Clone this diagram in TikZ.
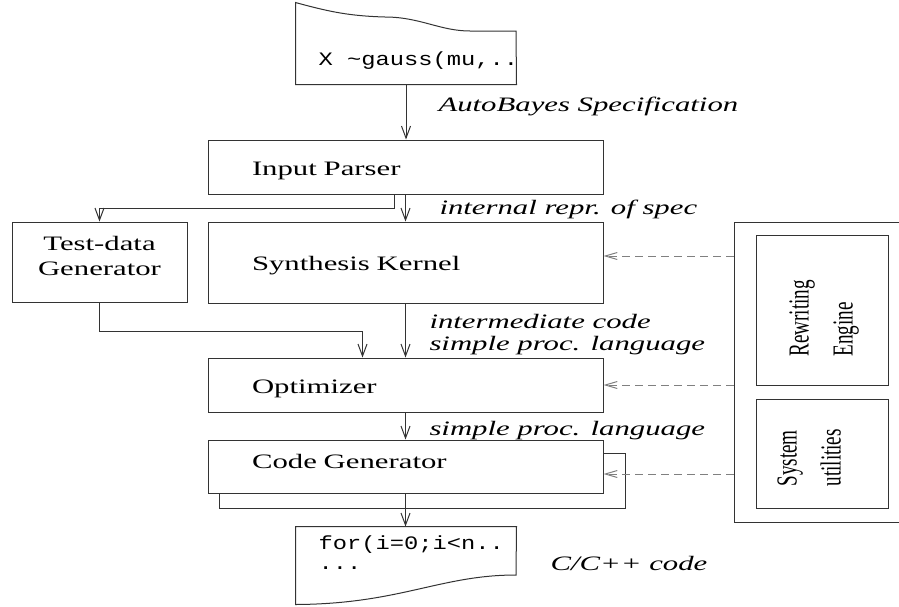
\documentclass[tikz,border=0pt]{standalone}
\usepackage{fontspec}
\setmainfont{Liberation Serif}[FakeStretch=1.5]
\setmonofont{Liberation Mono}[FakeStretch=1.25]
\newfontfamily\rotfont{Liberation Serif}[FakeStretch=0.66]
\usetikzlibrary{arrows.meta,calc,positioning}
\tikzset{
  blk/.style={rectangle, draw=black!80, fill=white, align=left, text width=307pt,
              inner xsep=44pt, inner ysep=0pt, text height=16pt, text depth=0pt,
              font=\fontsize{20.5}{25}\selectfont},
  shd/.style={rectangle, draw=black!80, fill=white, inner sep=0pt},
  docfr/.style={rectangle, minimum width=220pt, inner sep=0pt},
  ar/.style={draw=black!80, -{Straight Barb[length=12pt,width=9pt]}},
  dar/.style={draw=black!50, dash pattern=on 8pt off 5pt,
              -{Straight Barb[length=12pt,width=7pt]}}
}

\begin{document}
\begin{tikzpicture}[
  x=1pt, y=-1pt, line width=1pt,
  ln/.style={draw=black!80},
  tdgbox/.style={rectangle, draw=black!80, fill=white, align=center, text width=160pt,
                 inner xsep=7.5pt, inner ysep=0pt, text height=16pt, text depth=39pt,
                 minimum height=80pt, font=\fontsize{20.5}{25}\selectfont},
  lbl/.style={font=\fontsize{20.5}{22}\selectfont\itshape, anchor=base west,
              inner sep=0pt, align=left},
  cd/.style={font=\fontsize{19}{20}\selectfont\ttfamily, anchor=base west,
             inner sep=0pt, align=left},
  rot/.style={rotate=90, font=\fontsize{29}{44}\selectfont\rotfont, anchor=north west,
              inner sep=0pt, align=left}
]
\useasboundingbox (0,0) rectangle (899,606);
% ---- specification input ----
\node[docfr, minimum height=81pt] (spec) at (406,43.5) {};
\draw[ln, fill=white] (spec.south west) -- (spec.south east) -- (516,31) -- (470,31)
  .. controls (440,31) and (420,17) .. (385,17)
  .. controls (350,16) and (330,12) .. (spec.north west) -- cycle;
\node[cd] (spectxt) at (318,65) {X \textasciitilde gauss(mu,..};
% ---- main pipeline ----
\node[blk, minimum height=54pt] (ip) at (405.5,167) {Input Parser};
\node[blk, minimum height=81pt] (sk) at (405.5,262.5) {Synthesis Kernel};
\node[tdgbox] (tdg) at (99.5,262) {Test-data\\Generator};
\node[blk, minimum height=54pt] (opt) at (405.5,385) {Optimizer};
\node[shd, minimum width=406pt, minimum height=55pt] (cgs) at (422,480.5) {};
\node[blk, minimum height=53pt, text depth=13pt] (cg) at (405.5,466.5) {Code Generator};
% ---- generated code ----
\node[docfr, minimum height=77pt] (out) at (406,565.5) {};
\draw[ln, fill=white] (out.north west) -- (out.north east) -- (516,575)
  .. controls (440,575) and (400,604) .. (out.south west) -- cycle;
\node[cd] (outtxt) at (318,569) {for(i=0;i<n..\\...};
% ---- library side ----
\node[shd, minimum width=171pt, minimum height=300pt] (lib) at (819.5,372) {};
\node[shd, minimum width=132pt, minimum height=150pt] (rew) at (822,310) {};
\node[shd, minimum width=132pt, minimum height=109pt] (sys) at (822,453.5) {};
\node[rot] (rewtxt) at (789,357) {Rewriting\\Engine};
\node[rot] (systxt) at (777,487) {System\\utilities};
% ---- flow arrows ----
\draw[ar] (spec.south) -- (spec.south |- ip.north);
\draw[ar] (ip.south) -- (sk.north);
\draw[ar] ([xshift=-11pt]ip.south) -- ++(0,14) -| (tdg.north);
\draw[ar] (tdg.south) -- ++(0,29) -| ([xshift=-43pt]opt.north);
\draw[ar] (sk.south) -- (opt.north);
\draw[ar] (opt.south) -- (cg.north);
\draw[ar] (cg.south) -- (cg.south |- out.north);
% ---- library links ----
\coordinate (d1) at ([yshift=6.5pt]sk.east);
\coordinate (d3) at ([yshift=-7.5pt]cg.east);
\draw[dar] (d1 -| lib.west) -- (d1);
\draw[dar] (opt.east -| lib.west) -- (opt.east);
\draw[dar] (d3 -| lib.west) -- (d3);
% ---- edge labels ----
\node[lbl] (l1) at (438,111) {AutoBayes Specification};
\node[lbl] (l2) at (439,214) {internal repr. of spec};
\node[lbl] (l3) at (429,350) {intermediate code\\simple proc. language};
\node[lbl] (l4) at (429,435) {simple proc. language};
\node[lbl] (l5) at (550,570) {C/C++ code};
\end{tikzpicture}
\end{document}
